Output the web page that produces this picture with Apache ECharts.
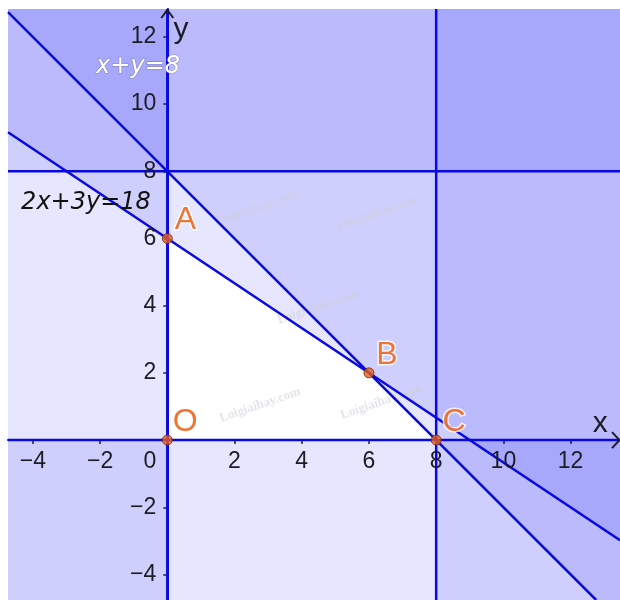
<!DOCTYPE html>
<html>
<head>
<meta charset="utf-8">
<script src="https://cdn.jsdelivr.net/npm/echarts@6/dist/echarts.min.js"></script>
<style>
html,body{margin:0;padding:0;background:#fff;}
#chart{width:620px;height:600px;}
</style>
</head>
<body>
<div id="chart"></div>
<script>
// ---- data ----
// Constraint lines a*x + b*y = c ; shadeSide: sign of (a*x+b*y-c) on the excluded (shaded) side
const constraintNames = ['x ≥ 0', 'y ≥ 0', 'x ≤ 8', 'y ≤ 8', 'x + y ≤ 8', '2x + 3y ≤ 18'];
const coefX = [1, 0, 1, 0, 1, 2];
const coefY = [0, 1, 0, 1, 1, 3];
const rhs = [0, 0, 8, 8, 8, 18];
const shadeSide = [-1, -1, 1, 1, 1, 1];

// Vertices of the feasible region
const pointNames = ['O', 'A', 'B', 'C'];
const pointX = [0, 0, 6, 8];
const pointY = [0, 6, 2, 0];

// Tick labels
const xTicks = [-4, -2, 2, 4, 6, 8, 10, 12];
const yTicks = [-4, -2, 2, 4, 6, 8, 10, 12];

// Equation labels
const equationTexts = ['x+y=8', '2x+3y=18'];

// ---- view ----
const X_MIN = -4.74, X_MAX = 13.47, Y_MIN = -4.76, Y_MAX = 12.83;
const viewRect = [[X_MIN, Y_MIN], [X_MAX, Y_MIN], [X_MAX, Y_MAX], [X_MIN, Y_MAX]];

function clipHalfPlane(poly, a, b, c, s) {
  const f = p => s * (a * p[0] + b * p[1] - c);
  const out = [];
  for (let i = 0; i < poly.length; i++) {
    const P = poly[i], Q = poly[(i + 1) % poly.length];
    const fp = f(P), fq = f(Q);
    if (fp >= 0) out.push(P);
    if ((fp >= 0) !== (fq >= 0)) {
      const t = fp / (fp - fq);
      out.push([P[0] + t * (Q[0] - P[0]), P[1] + t * (Q[1] - P[1])]);
    }
  }
  return out;
}
function clipLine(a, b, c) {
  const pts = [];
  const eps = 1e-9;
  if (b !== 0) {
    [X_MIN, X_MAX].forEach(x => { const y = (c - a * x) / b; if (y >= Y_MIN - eps && y <= Y_MAX + eps) pts.push([x, y]); });
  }
  if (a !== 0) {
    [Y_MIN, Y_MAX].forEach(y => { const x = (c - b * y) / a; if (x >= X_MIN - eps && x <= X_MAX + eps) pts.push([x, y]); });
  }
  pts.sort((p, q) => p[0] - q[0] || p[1] - q[1]);
  return [pts[0], pts[pts.length - 1]];
}

const LINE_BLUE = '#0808e0';
const FILL = 'rgba(0,0,240,0.097)';
const LABEL_COLOR = '#1c1c24';
const minus = v => String(v).replace('-', '\u2212');

const chart = echarts.init(document.getElementById('chart'), null, {renderer: 'canvas'});

const wmText = 'Loigiaihay.com';
const wmPos = [[257, 208], [377, 213], [318, 307], [260, 405], [381, 402]];

const tickLabelData = xTicks.map(t => ({value: [t, 0], text: minus(t), kind: 'x'}))
  .concat(yTicks.map(t => ({value: [0, t], text: minus(t), kind: 'y'})))
  .concat([{value: [0, 0], text: '0', kind: 'zero'}]);

const annotationData = [
  {value: [-0.87, 11.1], text: equationTexts[0], kind: 'white'},
  {value: [-2.42, 7.05], text: equationTexts[1], kind: 'black'},
  {value: [12.88, 0.5], text: 'x', kind: 'axis'},
  {value: [0.41, 12.2], text: 'y', kind: 'axis'}
];

const option = {
  animation: false,
  backgroundColor: '#ffffff',
  grid: {left: 8, top: 9, right: 0, bottom: 0, outerBoundsMode: 'none', containLabel: false},
  xAxis: {
    type: 'value', min: X_MIN, max: X_MAX, z: 5,
    axisLine: {show: true, onZero: true, lineStyle: {color: LINE_BLUE, width: 2}},
    axisTick: {show: true, customValues: xTicks, length: 4, lineStyle: {color: '#222', width: 1.5}},
    axisLabel: {show: false},
    splitLine: {show: false}
  },
  yAxis: {
    type: 'value', min: Y_MIN, max: Y_MAX, z: 5,
    axisLine: {show: true, onZero: true, lineStyle: {color: LINE_BLUE, width: 2}},
    axisTick: {show: true, customValues: yTicks, length: 4, lineStyle: {color: '#222', width: 1.5}},
    axisLabel: {show: false},
    splitLine: {show: false}
  },
  graphic: wmPos.map(p => ({
    type: 'text', x: p[0], y: p[1], rotation: 0.33, z: 3, silent: true,
    style: {text: wmText, font: 'bold 13px "Liberation Serif", serif', fill: 'rgba(205,205,215,0.55)',
      align: 'center', verticalAlign: 'middle'}
  })),
  series: [
    {
      name: 'excluded half-planes', type: 'custom', coordinateSystem: 'cartesian2d', z: 1, silent: true,
      data: constraintNames.map((n, i) => ({name: n, value: [coefX[i], coefY[i], rhs[i], shadeSide[i]]})),
      encode: {x: -1, y: -1},
      renderItem: (params, api) => {
        const poly = clipHalfPlane(viewRect, api.value(0), api.value(1), api.value(2), api.value(3));
        return {type: 'polygon', shape: {points: poly.map(p => api.coord(p))}, style: {fill: FILL}};
      }
    },
    {
      name: 'constraint lines', type: 'custom', coordinateSystem: 'cartesian2d', z: 6, silent: true,
      data: constraintNames.map((n, i) => ({name: n, value: [coefX[i], coefY[i], rhs[i]]})),
      encode: {x: -1, y: -1},
      renderItem: (params, api) => {
        const seg = clipLine(api.value(0), api.value(1), api.value(2));
        const p1 = api.coord(seg[0]), p2 = api.coord(seg[1]);
        return {type: 'line', shape: {x1: p1[0], y1: p1[1], x2: p2[0], y2: p2[1]},
          style: {stroke: LINE_BLUE, lineWidth: 2.5}};
      }
    },
    {
      name: 'axis arrows', type: 'custom', coordinateSystem: 'cartesian2d', z: 7, silent: true,
      data: [[X_MAX, 0, 0], [0, Y_MAX, 1]],
      renderItem: (params, api) => {
        const t = api.coord([api.value(0), api.value(1)]);
        const pts = api.value(2) === 0
          ? [[t[0] - 8, t[1] - 8], [t[0] - 0.5, t[1]], [t[0] - 8, t[1] + 8]]
          : [[t[0] - 6, t[1] + 9], [t[0], t[1] + 1], [t[0] + 6, t[1] + 9]];
        return {type: 'polyline', shape: {points: pts}, style: {stroke: LABEL_COLOR, lineWidth: 2, fill: null}};
      }
    },
    {
      name: 'tick labels', type: 'custom', coordinateSystem: 'cartesian2d', z: 8, silent: true,
      data: tickLabelData,
      renderItem: (params, api) => {
        const d = tickLabelData[params.dataIndex];
        const p = api.coord([api.value(0), api.value(1)]);
        let align = 'center';
        if (d.kind === 'x') { p[1] += 22; }
        else if (d.kind === 'y') { p[0] -= 11; align = 'right'; }
        else { p[0] -= 11; p[1] += 22; align = 'right'; }
        return {type: 'text', x: p[0], y: p[1], style: {text: d.text, align: align, verticalAlign: 'middle',
          font: '23px "Liberation Sans", Arial, sans-serif', fill: LABEL_COLOR}};
      }
    },
    {
      name: 'annotations', type: 'custom', coordinateSystem: 'cartesian2d', z: 8, silent: true,
      data: annotationData,
      renderItem: (params, api) => {
        const d = annotationData[params.dataIndex];
        const p = api.coord([api.value(0), api.value(1)]);
        let style;
        if (d.kind === 'white') {
          style = {font: 'italic 24px "DejaVu Sans", sans-serif', fill: '#ffffff',
            stroke: 'rgba(110,110,140,0.55)', lineWidth: 1.2};
        } else if (d.kind === 'black') {
          style = {font: 'italic 24px "DejaVu Sans", sans-serif', fill: '#111111'};
        } else {
          style = {font: '30px "Liberation Sans", Arial, sans-serif', fill: LABEL_COLOR};
        }
        style.text = d.text; style.align = 'center'; style.verticalAlign = 'middle';
        return {type: 'text', x: p[0], y: p[1], style: style};
      }
    },
    {
      name: 'vertices', type: 'scatter', z: 9, silent: true,
      data: pointNames.map((n, i) => ({name: n, value: [pointX[i], pointY[i]]})),
      symbol: 'circle', symbolSize: 10,
      itemStyle: {color: '#e8601c', borderColor: '#6b2a08', borderWidth: 1},
      label: {show: true, formatter: '{b}', position: 'inside', offset: [18, -18],
        fontSize: 32, fontFamily: 'Liberation Sans, Arial, sans-serif', color: '#e85405',
        textBorderColor: '#ffffff', textBorderWidth: 3, align: 'center', verticalAlign: 'middle'}
    }
  ]
};
chart.setOption(option);
</script>
</body>
</html>
